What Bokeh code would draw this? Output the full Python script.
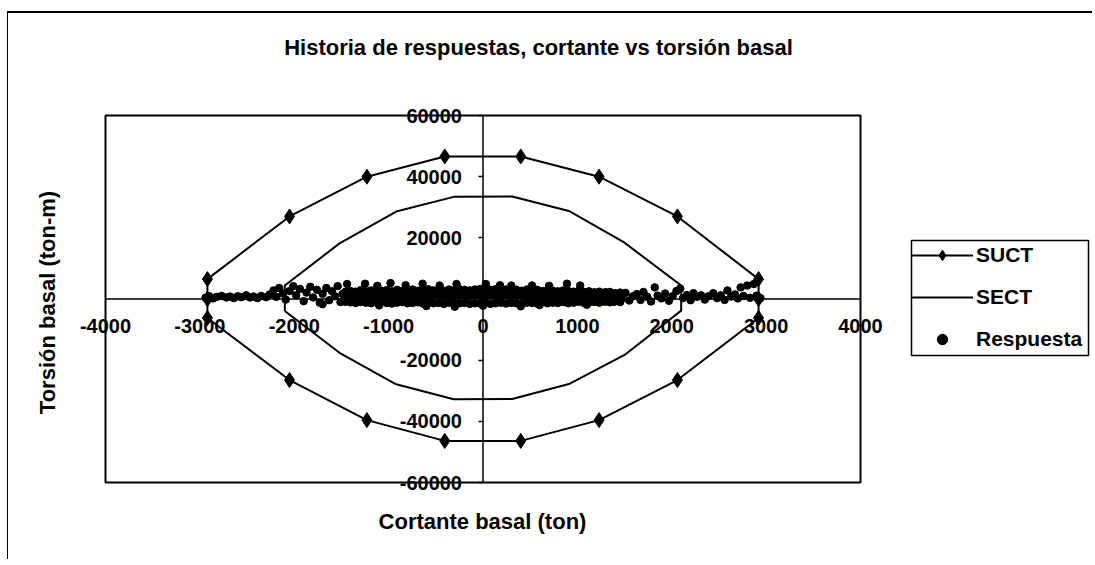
import math
from bokeh.plotting import figure
from bokeh.models import Range1d, FixedTicker, Legend, LegendItem, Label, BoxAnnotation
from bokeh.embed import file_html
from bokeh.resources import INLINE

# ---------------- data ----------------
x_ticks = [-4000, -3000, -2000, -1000, 0, 1000, 2000, 3000, 4000]
y_ticks = [-60000, -40000, -20000, 0, 20000, 40000, 60000]

# SUCT envelope (closed, with diamond markers)
suct_x = [-2920, -2920, -2050, -1230, -405, 400, 1230, 2060, 2920, 2920, 2920,
          2060, 1230, 400, -405, -1230, -2050, -2920, -2920]
suct_y = [0, 6500, 27000, 40000, 46600, 46600, 40000, 27000, 6500, 0, -6200,
          -26500, -39600, -46400, -46400, -39600, -26500, -6200, 0]

# SECT envelope (closed line)
sect_x = [-2100, -2100, -1520, -920, -310, 310, 910, 1500, 2100, 2100,
          1500, 910, 310, -310, -920, -1520, -2100]
sect_y = [-3900, 4400, 18200, 28600, 33400, 33500, 28800, 18400, 4400, -3800,
          -18300, -27800, -32700, -32800, -27900, -17600, -3900]

# Respuesta: dense core of the response history (three rows of points)
dense_x = [-1460, -1405, -1350, -1296, -1240, -1186, -1130, -1075, -1020, -966,
           -910, -856, -800, -746, -690, -636, -580, -526, -470, -416,
           -360, -306, -250, -196, -140, -86, -30, 24, 80, 134,
           190, 244, 300, 354, 410, 464, 520, 574, 630, 684,
           740, 794, 850, 904, 960, 1014, 1070, 1124, 1180, 1234,
           1290, 1344, 1400, 1454]
dense_low = [-900, -1100, -1300, -1000, -1200, -1400, -1100, -900, -1300, -1500,
             -1200, -1000, -1400, -1300, -1100, -1500, -1200, -1400, -1300, -1600,
             -1200, -1500, -1400, -1300, -1600, -1400, -1500, -1300, -1600, -1400,
             -1200, -1500, -1300, -1400, -1600, -1200, -1300, -1500, -1100, -1400,
             -1200, -1300, -1000, -1400, -1200, -900, -1300, -1100, -1000, -1200,
             -900, -1100, -800, -1000]
dense_mid = [800, 1000, 700, 1100, 900, 1200, 800, 1000, 1100, 900,
             1200, 1000, 800, 1100, 1300, 900, 1000, 1200, 1100, 900,
             1300, 1000, 1100, 1200, 1000, 1300, 1100, 900, 1200, 1000,
             1100, 1300, 900, 1200, 1000, 1100, 1300, 900, 1000, 1200,
             800, 1100, 1000, 900, 1200, 800, 1000, 1100, 700, 900,
             1000, 800, 900, 600]
dense_high = [2300, 2600, 2400, 2900, 2500, 2800, 2300, 2700, 2900, 2500,
              3000, 2600, 2800, 3100, 2700, 2900, 3200, 2800, 3000, 2700,
              3100, 2900, 3200, 3000, 2800, 3100, 3300, 2900, 3000, 3200,
              2800, 3100, 2900, 3000, 2700, 3100, 2800, 3000, 2600, 2900,
              2700, 2500, 2800, 2600, 2400, 2700, 2300, 2500, 2200, 2400,
              2100, 2300, 1900, 2100]

# Respuesta: scattered points outside the core
sparse_x = [-2940, -2900, -2860, -2820, -2770, -2720, -2680, -2640, -2600, -2560,
            -2510, -2470, -2430, -2390, -2350, -2300, -2260, -2220, -2190, -2160,
            -2120, -2090, -2050, -2010, -1980, -1940, -1900, -1870, -1830, -1800,
            -1760, -1730, -1700, -1660, -1630, -1600, -1570, -1540, -1510, -1490,
            -1440, -1250, -1120, -980, -820, -640, -460, -280, 30, 180,
            300, 520, 700, 890, 1030,
            -1700, -1100, -600, -300, 0, 400, 600, 1100,
            1230, 1260, 1300, 1340, 1380, 1420, 1470, 1510, 1550, 1590,
            1630, 1670, 1700, 1740, 1780, 1820, 1850, 1890, 1930, 1970,
            2010, 2050, 2090, 2120, 2160, 2200, 2230, 2270, 2310, 2350,
            2390, 2440, 2480, 2520, 2560, 2590, 2630, 2670, 2700, 2730,
            2760, 2800, 2830, 2870, 2900, 2940]
sparse_y = [400, 900, 200, 700, 1000, 500, 800, 300, 900, 600,
            1200, 500, 800, 300, 1000, 600, 1500, 2800, 700, 3600,
            1800, -200, 2600, 4200, 1200, 3300, -700, 2100, 4000, 500,
            3000, -1200, 1700, 3600, -400, 2500, 900, 4200, -1000, 1600,
            4900, 5000, 4300, 5200, 4500, 5000, 4400, 4900, 4900, 4500,
            4400, 4400, 4300, 5000, 4400,
            -1700, -2100, -2300, -2500, -2200, -2400, -2000, -1900,
            1200, -600, 2200, 400, -900, 1500, 100, 2000, -500, 900,
            1600, -300, 2300, 700, -800, 3800, 1100, 200, 1800, -600,
            900, 2600, 3400, 300, 1300, -400, 1900, 700, 1200, -200,
            900, 1900, 300, 1200, -300, 2800, 800, 1500, 200, 3800,
            1000, 4400, 400, 4900, 1100, 300]

resp_x = dense_x + dense_x + dense_x + sparse_x
resp_y = dense_low + dense_mid + dense_high + sparse_y

# ---------------- layout geometry (pixels on the canvas) ----------------
W, H = 1085, 548                  # canvas size
BOX_L, BOX_R = 97, 852            # plot box, from canvas left
BOX_T, BOX_B = 102, 469           # plot box, from canvas top
LEG_L, LEG_R = 903, 1080          # legend box, from canvas left
LEG_T, LEG_B = 227, 342           # legend box, from canvas top

x0, x1 = x_ticks[0], x_ticks[-1]
y0, y1 = y_ticks[0], y_ticks[-1]
xs = (x1 - x0) / (BOX_R - BOX_L)
ys = (y1 - y0) / (BOX_B - BOX_T)
x_range = Range1d(x0 - BOX_L * xs, x1 + (W - BOX_R) * xs)
y_range = Range1d(y0 - (H - BOX_B) * ys, y1 + BOX_T * ys)

FONT = "Liberation Sans"

p = figure(width=W, height=H, output_backend="svg", toolbar_location=None,
           x_range=x_range, y_range=y_range, min_border=0)
p.styles = {"margin-left": "7px", "margin-top": "11px",
            "border-top": "2px solid black", "border-left": "1px solid black"}
p.title.visible = False
p.xgrid.visible = False
p.ygrid.visible = False
p.background_fill_color = "white"
p.border_fill_color = "white"
p.outline_line_color = None

# plot box and axis lines (from the tick extents)
p.quad(left=[x0], right=[x1], bottom=[y0], top=[y1], fill_color=None,
       line_color="black", line_width=2)
p.segment(x0=[x0, 0], y0=[0, y0], x1=[x1, 0], y1=[0, y1],
          line_color="black", line_width=1.5)

# axes crossing at zero
xa = p.xaxis[0]
xa.fixed_location = 0
xa.ticker = FixedTicker(ticks=x_ticks)
xa.major_label_overrides = {t: str(t) for t in x_ticks}
xa.axis_line_color = None
xa.major_tick_line_color = None
xa.minor_tick_line_color = None
xa.major_label_standoff = 14
xa.major_label_text_font = FONT
xa.major_label_text_font_style = "bold"
xa.major_label_text_font_size = "20px"
xa.major_label_text_color = "black"

ya = p.yaxis[0]
ya.fixed_location = 0
ya.ticker = FixedTicker(ticks=y_ticks)
ya.major_label_overrides = {t: (str(t) if t != 0 else "") for t in y_ticks}
ya.axis_line_color = None
ya.major_tick_out = 5
ya.major_tick_in = 0
ya.major_tick_line_width = 1.5
ya.minor_tick_line_color = None
ya.major_label_standoff = 16
ya.major_label_text_font = FONT
ya.major_label_text_font_style = "bold"
ya.major_label_text_font_size = "20px"
ya.major_label_text_color = "black"

# glyphs
r_sect = p.line(sect_x, sect_y, line_color="black", line_width=2)
r_suct = p.line(suct_x, suct_y, line_color="black", line_width=2)
r_suct_m = p.scatter(suct_x, suct_y, marker="diamond", size=15,
                     fill_color="black", line_color="black")
r_resp = p.scatter(resp_x, resp_y, marker="circle", size=7.5,
                   fill_color="black", line_color="black")

# titles (screen units: from canvas left / canvas bottom)
def add_text(txt, x, y, angle=0.0):
    p.add_layout(Label(text=txt, x=x, y=y, x_units="screen", y_units="screen",
                       angle=angle, text_align="center", text_baseline="middle",
                       text_font=FONT, text_font_style="bold",
                       text_font_size="22px", text_color="black"))

add_text("Historia de respuestas, cortante vs torsión basal", 530, H - 34)
add_text("Cortante basal (ton)", 474, H - 508)
add_text("Torsión basal (ton-m)", 39, H - 289, math.pi / 2)

# legend (frame drawn as a box annotation)
legend = Legend(items=[LegendItem(label="SUCT", renderers=[r_suct, r_suct_m]),
                       LegendItem(label="SECT", renderers=[r_sect]),
                       LegendItem(label="Respuesta", renderers=[r_resp])],
                location=(LEG_L, H - LEG_B + 3), orientation="vertical")
legend.label_text_font = FONT
legend.label_text_font_style = "bold"
legend.label_text_font_size = "21px"
legend.label_text_color = "black"
legend.border_line_color = None
legend.background_fill_color = None
legend.padding = 2
legend.spacing = 16
legend.glyph_height = 26
legend.glyph_width = 62
legend.label_height = 26
legend.label_standoff = 3
legend.margin = 0
p.add_layout(legend)

p.add_layout(BoxAnnotation(left=LEG_L, right=LEG_R, top=H - LEG_T, bottom=H - LEG_B,
                           left_units="screen", right_units="screen",
                           top_units="screen", bottom_units="screen",
                           fill_color=None, line_color="black", line_width=1.5,
                           line_alpha=1.0))

open("out.html", "w").write(file_html(p, INLINE))
